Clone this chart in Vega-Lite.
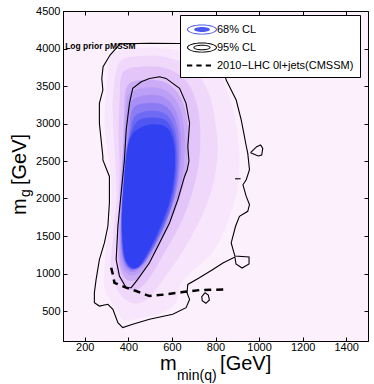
{
"$schema": "https://vega.github.io/schema/vega-lite/v6.json",
"width": 305, "height": 330,
"autosize": {"type": "none"},
"padding": {"left": 63, "top": 11, "right": 6, "bottom": 43},
"background": "white",
"config": {"view": {"fill": "#fdf0fd", "stroke": "black", "strokeWidth": 1}, "font": "Liberation Sans"},
"datasets": {
"dens": [
{"lev":"a","i":0,"x":330,"y":3950},{"lev":"a","i":1,"x":450,"y":4010},{"lev":"a","i":2,"x":600,"y":3990},{"lev":"a","i":3,"x":740,"y":3880},{"lev":"a","i":4,"x":820,"y":3650},{"lev":"a","i":5,"x":870,"y":3300},{"lev":"a","i":6,"x":900,"y":2900},{"lev":"a","i":7,"x":910,"y":2500},{"lev":"a","i":8,"x":900,"y":2100},{"lev":"a","i":9,"x":870,"y":1800},{"lev":"a","i":10,"x":830,"y":1500},{"lev":"a","i":11,"x":780,"y":1250},{"lev":"a","i":12,"x":700,"y":1050},{"lev":"a","i":13,"x":640,"y":850},{"lev":"a","i":14,"x":620,"y":620},{"lev":"a","i":15,"x":560,"y":480},{"lev":"a","i":16,"x":450,"y":400},{"lev":"a","i":17,"x":380,"y":380},{"lev":"a","i":18,"x":350,"y":500},{"lev":"a","i":19,"x":320,"y":640},{"lev":"a","i":20,"x":290,"y":800},{"lev":"a","i":21,"x":290,"y":1100},{"lev":"a","i":22,"x":300,"y":1400},{"lev":"a","i":23,"x":320,"y":1800},{"lev":"a","i":24,"x":320,"y":2300},{"lev":"a","i":25,"x":300,"y":2700},{"lev":"a","i":26,"x":290,"y":3100},{"lev":"a","i":27,"x":300,"y":3500},{"lev":"a","i":28,"x":310,"y":3800},
{"lev":"b","i":0,"x":360,"y":3820},{"lev":"b","i":1,"x":460,"y":3900},{"lev":"b","i":2,"x":580,"y":3880},{"lev":"b","i":3,"x":700,"y":3720},{"lev":"b","i":4,"x":770,"y":3400},{"lev":"b","i":5,"x":800,"y":3000},{"lev":"b","i":6,"x":810,"y":2600},{"lev":"b","i":7,"x":790,"y":2200},{"lev":"b","i":8,"x":750,"y":1850},{"lev":"b","i":9,"x":700,"y":1550},{"lev":"b","i":10,"x":640,"y":1250},{"lev":"b","i":11,"x":580,"y":1000},{"lev":"b","i":12,"x":530,"y":800},{"lev":"b","i":13,"x":480,"y":640},{"lev":"b","i":14,"x":420,"y":600},{"lev":"b","i":15,"x":370,"y":700},{"lev":"b","i":16,"x":340,"y":850},{"lev":"b","i":17,"x":320,"y":1100},{"lev":"b","i":18,"x":330,"y":1500},{"lev":"b","i":19,"x":345,"y":2000},{"lev":"b","i":20,"x":340,"y":2500},{"lev":"b","i":21,"x":330,"y":3000},{"lev":"b","i":22,"x":330,"y":3400},
{"lev":"c","i":0,"x":375,"y":3680},{"lev":"c","i":1,"x":470,"y":3760},{"lev":"c","i":2,"x":580,"y":3730},{"lev":"c","i":3,"x":670,"y":3550},{"lev":"c","i":4,"x":715,"y":3250},{"lev":"c","i":5,"x":730,"y":2900},{"lev":"c","i":6,"x":725,"y":2500},{"lev":"c","i":7,"x":700,"y":2150},{"lev":"c","i":8,"x":660,"y":1800},{"lev":"c","i":9,"x":610,"y":1500},{"lev":"c","i":10,"x":560,"y":1250},{"lev":"c","i":11,"x":510,"y":1000},{"lev":"c","i":12,"x":460,"y":820},{"lev":"c","i":13,"x":410,"y":780},{"lev":"c","i":14,"x":370,"y":870},{"lev":"c","i":15,"x":345,"y":1050},{"lev":"c","i":16,"x":345,"y":1400},{"lev":"c","i":17,"x":355,"y":1900},{"lev":"c","i":18,"x":360,"y":2400},{"lev":"c","i":19,"x":355,"y":2900},{"lev":"c","i":20,"x":360,"y":3300},
{"lev":"d","i":0,"x":395,"y":3500},{"lev":"d","i":1,"x":480,"y":3580},{"lev":"d","i":2,"x":575,"y":3540},{"lev":"d","i":3,"x":640,"y":3350},{"lev":"d","i":4,"x":670,"y":3050},{"lev":"d","i":5,"x":675,"y":2700},{"lev":"d","i":6,"x":665,"y":2350},{"lev":"d","i":7,"x":635,"y":2000},{"lev":"d","i":8,"x":595,"y":1700},{"lev":"d","i":9,"x":550,"y":1420},{"lev":"d","i":10,"x":500,"y":1160},{"lev":"d","i":11,"x":455,"y":960},{"lev":"d","i":12,"x":410,"y":900},{"lev":"d","i":13,"x":375,"y":980},{"lev":"d","i":14,"x":355,"y":1200},{"lev":"d","i":15,"x":355,"y":1600},{"lev":"d","i":16,"x":365,"y":2100},{"lev":"d","i":17,"x":375,"y":2600},{"lev":"d","i":18,"x":380,"y":3100},
{"lev":"d2","i":0,"x":405,"y":3400},{"lev":"d2","i":1,"x":485,"y":3480},{"lev":"d2","i":2,"x":572,"y":3440},{"lev":"d2","i":3,"x":630,"y":3250},{"lev":"d2","i":4,"x":655,"y":2950},{"lev":"d2","i":5,"x":658,"y":2600},{"lev":"d2","i":6,"x":645,"y":2250},{"lev":"d2","i":7,"x":615,"y":1925},{"lev":"d2","i":8,"x":578,"y":1640},{"lev":"d2","i":9,"x":532,"y":1375},{"lev":"d2","i":10,"x":485,"y":1140},{"lev":"d2","i":11,"x":440,"y":990},{"lev":"d2","i":12,"x":398,"y":990},{"lev":"d2","i":13,"x":365,"y":1140},{"lev":"d2","i":14,"x":360,"y":1450},{"lev":"d2","i":15,"x":360,"y":1900},{"lev":"d2","i":16,"x":370,"y":2400},{"lev":"d2","i":17,"x":383,"y":2900},{"lev":"d2","i":18,"x":390,"y":3200},
{"lev":"e","i":0,"x":415,"y":3300},{"lev":"e","i":1,"x":490,"y":3380},{"lev":"e","i":2,"x":570,"y":3340},{"lev":"e","i":3,"x":620,"y":3150},{"lev":"e","i":4,"x":640,"y":2850},{"lev":"e","i":5,"x":640,"y":2500},{"lev":"e","i":6,"x":625,"y":2150},{"lev":"e","i":7,"x":595,"y":1850},{"lev":"e","i":8,"x":560,"y":1580},{"lev":"e","i":9,"x":515,"y":1330},{"lev":"e","i":10,"x":470,"y":1120},{"lev":"e","i":11,"x":425,"y":1020},{"lev":"e","i":12,"x":385,"y":1080},{"lev":"e","i":13,"x":365,"y":1300},{"lev":"e","i":14,"x":365,"y":1700},{"lev":"e","i":15,"x":375,"y":2200},{"lev":"e","i":16,"x":390,"y":2700},{"lev":"e","i":17,"x":400,"y":3050},
{"lev":"e2","i":0,"x":422,"y":3200},{"lev":"e2","i":1,"x":495,"y":3275},{"lev":"e2","i":2,"x":570,"y":3235},{"lev":"e2","i":3,"x":615,"y":3050},{"lev":"e2","i":4,"x":632,"y":2750},{"lev":"e2","i":5,"x":631,"y":2400},{"lev":"e2","i":6,"x":614,"y":2050},{"lev":"e2","i":7,"x":584,"y":1775},{"lev":"e2","i":8,"x":548,"y":1525},{"lev":"e2","i":9,"x":503,"y":1280},{"lev":"e2","i":10,"x":459,"y":1100},{"lev":"e2","i":11,"x":415,"y":1045},{"lev":"e2","i":12,"x":380,"y":1165},{"lev":"e2","i":13,"x":366,"y":1475},{"lev":"e2","i":14,"x":370,"y":1925},{"lev":"e2","i":15,"x":383,"y":2400},{"lev":"e2","i":16,"x":400,"y":2825},
{"lev":"f","i":0,"x":430,"y":3100},{"lev":"f","i":1,"x":500,"y":3170},{"lev":"f","i":2,"x":570,"y":3130},{"lev":"f","i":3,"x":610,"y":2950},{"lev":"f","i":4,"x":625,"y":2650},{"lev":"f","i":5,"x":622,"y":2300},{"lev":"f","i":6,"x":602,"y":1950},{"lev":"f","i":7,"x":572,"y":1700},{"lev":"f","i":8,"x":535,"y":1470},{"lev":"f","i":9,"x":490,"y":1230},{"lev":"f","i":10,"x":448,"y":1080},{"lev":"f","i":11,"x":405,"y":1070},{"lev":"f","i":12,"x":375,"y":1250},{"lev":"f","i":13,"x":368,"y":1650},{"lev":"f","i":14,"x":378,"y":2150},{"lev":"f","i":15,"x":390,"y":2600},{"lev":"f","i":16,"x":410,"y":2900},
{"lev":"f2","i":0,"x":435,"y":3010},{"lev":"f2","i":1,"x":505,"y":3080},{"lev":"f2","i":2,"x":572,"y":3040},{"lev":"f2","i":3,"x":607,"y":2865},{"lev":"f2","i":4,"x":620,"y":2585},{"lev":"f2","i":5,"x":614,"y":2250},{"lev":"f2","i":6,"x":595,"y":1950},{"lev":"f2","i":7,"x":566,"y":1710},{"lev":"f2","i":8,"x":530,"y":1475},{"lev":"f2","i":9,"x":488,"y":1245},{"lev":"f2","i":10,"x":449,"y":1090},{"lev":"f2","i":11,"x":410,"y":1075},{"lev":"f2","i":12,"x":380,"y":1225},{"lev":"f2","i":13,"x":370,"y":1575},{"lev":"f2","i":14,"x":374,"y":1975},{"lev":"f2","i":15,"x":383,"y":2325},{"lev":"f2","i":16,"x":397,"y":2690},
{"lev":"g","i":0,"x":440,"y":2920},{"lev":"g","i":1,"x":510,"y":2990},{"lev":"g","i":2,"x":575,"y":2950},{"lev":"g","i":3,"x":605,"y":2780},{"lev":"g","i":4,"x":614,"y":2520},{"lev":"g","i":5,"x":606,"y":2200},{"lev":"g","i":6,"x":588,"y":1950},{"lev":"g","i":7,"x":560,"y":1720},{"lev":"g","i":8,"x":525,"y":1480},{"lev":"g","i":9,"x":485,"y":1260},{"lev":"g","i":10,"x":450,"y":1100},{"lev":"g","i":11,"x":415,"y":1080},{"lev":"g","i":12,"x":385,"y":1200},{"lev":"g","i":13,"x":372,"y":1500},{"lev":"g","i":14,"x":370,"y":1800},{"lev":"g","i":15,"x":378,"y":2150},{"lev":"g","i":16,"x":388,"y":2500},{"lev":"g","i":17,"x":405,"y":2780}
],
"cont": [
{"s":"o","i":0,"x":362,"y":4062},{"s":"o","i":1,"x":500,"y":4070},{"s":"o","i":2,"x":635,"y":4066},{"s":"o","i":3,"x":720,"y":4010},{"s":"o","i":4,"x":790,"y":3900},{"s":"o","i":5,"x":803,"y":3844},{"s":"o","i":6,"x":834,"y":3756},{"s":"o","i":7,"x":849,"y":3579},{"s":"o","i":8,"x":895,"y":3313},{"s":"o","i":9,"x":918,"y":3047},{"s":"o","i":10,"x":933,"y":2826},{"s":"o","i":11,"x":941,"y":2700},{"s":"o","i":12,"x":948,"y":2604},{"s":"o","i":13,"x":956,"y":2383},{"s":"o","i":14,"x":941,"y":2250},{"s":"o","i":15,"x":926,"y":2183},{"s":"o","i":16,"x":941,"y":2028},{"s":"o","i":17,"x":956,"y":1918},{"s":"o","i":18,"x":948,"y":1829},{"s":"o","i":19,"x":910,"y":1762},{"s":"o","i":20,"x":892,"y":1630},{"s":"o","i":21,"x":872,"y":1408},{"s":"o","i":22,"x":889,"y":1233},{"s":"o","i":23,"x":954,"y":1220},{"s":"o","i":24,"x":954,"y":1127},{"s":"o","i":25,"x":922,"y":1073},{"s":"o","i":26,"x":894,"y":1127},{"s":"o","i":27,"x":889,"y":1220},{"s":"o","i":28,"x":834,"y":1140},{"s":"o","i":29,"x":788,"y":1054},{"s":"o","i":30,"x":726,"y":943},{"s":"o","i":31,"x":673,"y":854},{"s":"o","i":32,"x":669,"y":744},{"s":"o","i":33,"x":681,"y":655},{"s":"o","i":34,"x":665,"y":545},{"s":"o","i":35,"x":604,"y":456},{"s":"o","i":36,"x":497,"y":389},{"s":"o","i":37,"x":420,"y":323},{"s":"o","i":38,"x":374,"y":279},{"s":"o","i":39,"x":352,"y":345},{"s":"o","i":40,"x":329,"y":522},{"s":"o","i":41,"x":306,"y":589},{"s":"o","i":42,"x":267,"y":566},{"s":"o","i":43,"x":244,"y":611},{"s":"o","i":44,"x":244,"y":744},{"s":"o","i":45,"x":252,"y":921},{"s":"o","i":46,"x":267,"y":1186},{"s":"o","i":47,"x":290,"y":1408},{"s":"o","i":48,"x":306,"y":1630},{"s":"o","i":49,"x":313,"y":1940},{"s":"o","i":50,"x":313,"y":2294},{"s":"o","i":51,"x":283,"y":2515},{"s":"o","i":52,"x":283,"y":2560},{"s":"o","i":53,"x":275,"y":2781},{"s":"o","i":54,"x":267,"y":3003},{"s":"o","i":55,"x":267,"y":3269},{"s":"o","i":56,"x":283,"y":3446},{"s":"o","i":57,"x":278,"y":3600},{"s":"o","i":58,"x":284,"y":3756},{"s":"o","i":59,"x":316,"y":3913},{"s":"o","i":60,"x":362,"y":4062},
{"s":"n","i":0,"x":543,"y":3623},{"s":"n","i":1,"x":573,"y":3601},{"s":"n","i":2,"x":635,"y":3468},{"s":"n","i":3,"x":665,"y":3269},{"s":"n","i":4,"x":681,"y":3003},{"s":"n","i":5,"x":673,"y":2693},{"s":"n","i":6,"x":678,"y":2500},{"s":"n","i":7,"x":670,"y":2380},{"s":"n","i":8,"x":658,"y":2294},{"s":"n","i":9,"x":627,"y":1984},{"s":"n","i":10,"x":589,"y":1674},{"s":"n","i":11,"x":543,"y":1408},{"s":"n","i":12,"x":497,"y":1143},{"s":"n","i":13,"x":443,"y":921},{"s":"n","i":14,"x":413,"y":811},{"s":"n","i":15,"x":390,"y":811},{"s":"n","i":16,"x":359,"y":965},{"s":"n","i":17,"x":344,"y":1186},{"s":"n","i":18,"x":352,"y":1630},{"s":"n","i":19,"x":367,"y":2073},{"s":"n","i":20,"x":382,"y":2515},{"s":"n","i":21,"x":390,"y":2914},{"s":"n","i":22,"x":405,"y":3269},{"s":"n","i":23,"x":420,"y":3468},{"s":"n","i":24,"x":459,"y":3557},{"s":"n","i":25,"x":497,"y":3601},{"s":"n","i":26,"x":543,"y":3623},
{"s":"a","i":0,"x":961,"y":2611},{"s":"a","i":1,"x":989,"y":2691},{"s":"a","i":2,"x":1007,"y":2713},{"s":"a","i":3,"x":1017,"y":2669},{"s":"a","i":4,"x":1012,"y":2580},{"s":"a","i":5,"x":996,"y":2567},{"s":"a","i":6,"x":961,"y":2611},
{"s":"d","i":0,"x":890,"y":2263},{"s":"d","i":1,"x":915,"y":2263},
{"s":"b","i":0,"x":752,"y":744},{"s":"b","i":1,"x":767,"y":713},{"s":"b","i":2,"x":772,"y":647},{"s":"b","i":3,"x":756,"y":603},{"s":"b","i":4,"x":739,"y":637},{"s":"b","i":5,"x":737,"y":691},{"s":"b","i":6,"x":752,"y":744}
],
"lhc": [
{"i":0,"x":321,"y":1076},{"i":1,"x":329,"y":987},{"i":2,"x":336,"y":876},{"i":3,"x":390,"y":811},{"i":4,"x":436,"y":766},{"i":5,"x":497,"y":699},{"i":6,"x":574,"y":722},{"i":7,"x":650,"y":752},{"i":8,"x":727,"y":779},{"i":9,"x":849,"y":788}
],
"note": [{"t":"Log prior pMSSM","x":110,"y":4000}],
"ttl": [
{"k":"xb","t":"m","x":545,"y":-287},{"k":"xb","t":"[GeV]","x":821,"y":-287},{"k":"xs","t":"min(q)","x":623,"y":-420},
{"k":"yb","t":"m","x":-70,"y":1780},{"k":"yb","t":"[GeV]","x":-70,"y":2180},{"k":"ys","t":"g","x":-51,"y":2020}
],
"leg": [
{"leg":"68% CL","x":0,"y":0},{"leg":"95% CL","x":0,"y":0},{"leg":"2010−LHC 0l+jets(CMSSM)","x":0,"y":0}
]
},
"encoding": {
"x": {"field":"x","type":"quantitative","scale":{"domain":[100,1500],"nice":false,"zero":false},"axis":null},
"y": {"field":"y","type":"quantitative","scale":{"domain":[100,4500],"nice":false,"zero":false},"axis":null}
},
"layer": [
{"data":{"name":"dens"},"mark":{"type":"line","interpolate":"cardinal-closed","strokeOpacity":0,"fillOpacity":1},
 "encoding":{
  "x": {"field":"x","type":"quantitative","axis":{"orient":"bottom","values":[200,400,600,800,1000,1200,1400],"format":"d","title":null,"grid":false,"tickSize":-4,"labelPadding":4,"labelFontSize":11,"labelColor":"black","domainColor":"black","tickColor":"black","labelFont":"Liberation Sans"}},
  "y": {"field":"y","type":"quantitative","axis":{"orient":"left","values":[500,1000,1500,2000,2500,3000,3500,4000,4500],"format":"d","title":null,"grid":false,"tickSize":-4,"labelPadding":7,"labelFontSize":11,"labelColor":"black","domainColor":"black","tickColor":"black","labelFont":"Liberation Sans"}},
  "detail":{"field":"lev"},"order":{"field":"i","type":"quantitative"},
  "fill":{"field":"lev","type":"nominal","legend":null,"scale":{"domain":["a","b","c","d","d2","e","e2","f","f2","g"],"range":["#f8e7fc","#f0d8fb","#e3c5fa","#ccacf7","#bb9ef6","#a98ef5","#8c7cf4","#6f6af3","#5056f2","#3141f2"]}}}},
{"data":{"name":"cont"},"mark":{"type":"line","color":"black","strokeWidth":1.1},
 "encoding":{"detail":{"field":"s"},"order":{"field":"i","type":"quantitative"}}},
{"data":{"name":"lhc"},"mark":{"type":"line","color":"black","strokeWidth":2.5,"strokeDash":[7,5]},
 "encoding":{"order":{"field":"i","type":"quantitative"}}},
{"data":{"name":"note"},"mark":{"type":"text","align":"left","baseline":"alphabetic","fontSize":8.5,"fontWeight":"bold","color":"black","font":"Liberation Sans"},
 "encoding":{"text":{"field":"t"},
  "x": {"field":"x","type":"quantitative","axis":{"orient":"top","values":[200,400,600,800,1000,1200,1400],"labels":false,"domain":false,"title":null,"grid":false,"tickSize":-4,"tickColor":"black"}},
  "y": {"field":"y","type":"quantitative","axis":{"orient":"right","values":[500,1000,1500,2000,2500,3000,3500,4000,4500],"labels":false,"domain":false,"title":null,"grid":false,"tickSize":-4,"tickColor":"black"}}}},
{"data":{"name":"ttl"},"transform":[{"filter":"datum.k=='xb'"}],"mark":{"type":"text","align":"left","baseline":"alphabetic","fontSize":20,"color":"black","font":"Liberation Sans"},
 "encoding":{"text":{"field":"t"}}},
{"data":{"name":"ttl"},"transform":[{"filter":"datum.k=='xs'"}],"mark":{"type":"text","align":"left","baseline":"alphabetic","fontSize":14,"color":"black","font":"Liberation Sans"},
 "encoding":{"text":{"field":"t"}}},
{"data":{"name":"ttl"},"transform":[{"filter":"datum.k=='yb'"}],"mark":{"type":"text","align":"left","baseline":"alphabetic","angle":270,"fontSize":20,"color":"black","font":"Liberation Sans"},
 "encoding":{"text":{"field":"t"}}},
{"data":{"name":"ttl"},"transform":[{"filter":"datum.k=='ys'"}],"mark":{"type":"text","align":"left","baseline":"alphabetic","angle":270,"fontSize":14,"color":"black","font":"Liberation Sans"},
 "encoding":{"text":{"field":"t"}}},
{"data":{"name":"leg"},"mark":{"type":"point","clip":true,"filled":true,"opacity":1,"size":225,"strokeWidth":2},
 "encoding":{
  "shape":{"field":"leg","type":"nominal","title":null,"scale":{"domain":["68% CL","95% CL","2010−LHC 0l+jets(CMSSM)"],"range":[
   "M-1,0A2,0.68 0 1,1 3,0A2,0.68 0 1,1 -1,0ZM-0.86,0A1.86,0.55 0 1,0 2.86,0A1.86,0.55 0 1,0 -0.86,0ZM-0.05,0A1.05,0.33 0 1,1 2.05,0A1.05,0.33 0 1,1 -0.05,0Z",
   "M-1,0A2,0.68 0 1,1 3,0A2,0.68 0 1,1 -1,0ZM-0.86,0A1.86,0.55 0 1,0 2.86,0A1.86,0.55 0 1,0 -0.86,0ZM-0.15,0A1.15,0.36 0 1,1 2.15,0A1.15,0.36 0 1,1 -0.15,0ZM-0.01,0A1.01,0.23 0 1,0 2.01,0A1.01,0.23 0 1,0 -0.01,0Z",
   "M-1,0L-0.3,0M0.25,0L0.95,0M1.5,0L2.2,0"]},
   "legend":{"orient":"none","legendX":117,"legendY":4,"fillColor":"white","strokeColor":"black","padding":6,"labelFontSize":11,"labelFont":"Liberation Sans","labelColor":"black","labelLimit":200,"symbolSize":225,"symbolStrokeWidth":2,"symbolOffset":0,"labelOffset":14,"rowPadding":-1}},
  "color":{"field":"leg","type":"nominal","title":null,"scale":{"domain":["68% CL","95% CL","2010−LHC 0l+jets(CMSSM)"],"range":["#4a58f0","black","transparent"]}},
  "stroke":{"field":"leg","type":"nominal","title":null,"scale":{"domain":["68% CL","95% CL","2010−LHC 0l+jets(CMSSM)"],"range":["transparent","transparent","black"]}}
 }}
],
"resolve": {"axis": {"x": "independent", "y": "independent"}}
}
